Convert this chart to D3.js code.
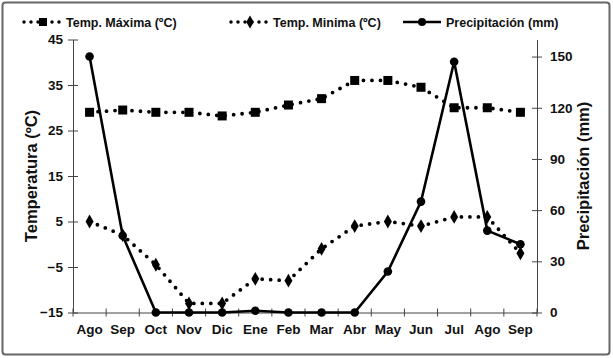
<!DOCTYPE html>
<html>
<head>
<meta charset="utf-8">
<script src="https://cdn.jsdelivr.net/npm/d3@7"></script>
<style>
  body { margin: 0; background: #fff; overflow: hidden; }
  svg { display: block; }
  text { font-family: "Liberation Sans", Arial, sans-serif; font-weight: bold; fill: #111; }
</style>
</head>
<body>
<svg class="chart"></svg>
<script>
const svgWidth = 613;
const svgHeight = 358;

// data
var months = ["Ago", "Sep", "Oct", "Nov", "Dic", "Ene", "Feb", "Mar", "Abr", "May", "Jun", "Jul", "Ago", "Sep"];
var tempMax = [29, 29.5, 29, 29, 28.2, 29, 30.6, 32, 36, 36, 34.5, 30, 30, 29];
var tempMin = [5, 2, -4.5, -13, -13, -7.6, -8, -1, 4, 5, 4, 6, 6, -2];
var precip = [150, 45, 0, 0, 0, 1, 0, 0, 0, 24, 65, 147, 48, 40];
var tempTicks = [-15, -5, 5, 15, 25, 35, 45];
var precipTicks = [0, 30, 60, 90, 120, 150];

var margin = { top: 39.5, right: 76, bottom: 45.5, left: 73 };
var innerWidth = svgWidth - margin.left - margin.right;
var innerHeight = svgHeight - margin.top - margin.bottom;

const svg = d3.select('.chart')
  .attr('width', svgWidth)
  .attr('height', svgHeight);

// outer frame
svg.append('rect')
  .attr('x', 2.5).attr('y', 2.5)
  .attr('width', svgWidth - 6).attr('height', svgHeight - 6)
  .attr('rx', 3)
  .attr('fill', 'none')
  .attr('stroke', '#666')
  .attr('stroke-width', 2);

const g = svg.append('g')
  .attr('transform', `translate(${margin.left},${margin.top})`);

var x = d3.scaleBand().domain(d3.range(months.length)).range([0, innerWidth]);
var xc = function(i) { return x(i) + x.bandwidth() / 2; };
var yT = d3.scaleLinear().domain([-15, 45]).range([innerHeight, 0]);
var yP = d3.scaleLinear().domain([0, 160]).range([innerHeight, 0]);

// x axis with ticks between months
var xAxis = g.append('g')
  .attr('transform', `translate(0,${innerHeight})`)
  .call(d3.axisBottom(x).tickSizeInner(0).tickSizeOuter(0).tickFormat(function(i) { return months[i]; }));
xAxis.selectAll('text').attr('dy', '1.35em').style('font-size', '13.5px');
xAxis.select('.domain').attr('stroke', '#444');
xAxis.selectAll('line.sep')
  .data(d3.range(months.length + 1))
  .enter().append('line')
  .attr('x1', function(i) { return i * x.step(); })
  .attr('x2', function(i) { return i * x.step(); })
  .attr('y1', -4).attr('y2', 4)
  .attr('stroke', '#444');

// left axis
var leftAxis = g.append('g')
  .call(d3.axisLeft(yT).tickValues(tempTicks).tickSize(5).tickSizeOuter(0));
leftAxis.selectAll('.tick line').attr('x2', 5).attr('x1', -5).attr('stroke', '#444');
leftAxis.selectAll('text').attr('x', -10).style('font-size', '13.5px');
leftAxis.select('.domain').attr('stroke', '#444');

// right axis
var rightAxis = g.append('g')
  .attr('transform', `translate(${innerWidth},0)`)
  .call(d3.axisRight(yP).tickValues(precipTicks).tickSize(5).tickSizeOuter(0));
rightAxis.selectAll('.tick line').attr('x1', -5).attr('x2', 5).attr('stroke', '#444');
rightAxis.selectAll('text').attr('x', 13).style('font-size', '13.5px');
rightAxis.select('.domain').attr('stroke', '#444');

// axis titles
svg.append('text')
  .text('Temperatura (ºC)')
  .attr('transform', 'translate(37,176) rotate(-90)')
  .style('text-anchor', 'middle')
  .style('font-size', '16.5px');
svg.append('text')
  .text('Precipitación (mm)')
  .attr('transform', 'translate(589,176) rotate(-90)')
  .style('text-anchor', 'middle')
  .style('font-size', '16.5px');

// lines
var lineT = d3.line().x(function(d, i) { return xc(i); }).y(function(d) { return yT(d); });
var lineP = d3.line().x(function(d, i) { return xc(i); }).y(function(d) { return yP(d); });

g.append('path').datum(tempMax)
  .attr('d', lineT).attr('fill', 'none').attr('stroke', '#000')
  .attr('stroke-width', 3.8).attr('stroke-linecap', 'round').attr('stroke-dasharray', '0,8.5');
g.append('path').datum(tempMin)
  .attr('d', lineT).attr('fill', 'none').attr('stroke', '#000')
  .attr('stroke-width', 3.8).attr('stroke-linecap', 'round').attr('stroke-dasharray', '0,8.5');
g.append('path').datum(precip)
  .attr('d', lineP).attr('fill', 'none').attr('stroke', '#000')
  .attr('stroke-width', 2.6);

// markers
g.selectAll('.sq').data(tempMax).enter().append('rect')
  .attr('x', function(d, i) { return xc(i) - 4.5; })
  .attr('y', function(d) { return yT(d) - 4.5; })
  .attr('width', 9).attr('height', 9).attr('fill', '#000');
g.selectAll('.dm').data(tempMin).enter().append('path')
  .attr('d', d3.symbol().type(d3.symbolDiamond).size(55))
  .attr('transform', function(d, i) { return `translate(${xc(i)},${yT(d)})`; })
  .attr('fill', '#000');
g.selectAll('.ci').data(precip).enter().append('circle')
  .attr('cx', function(d, i) { return xc(i); })
  .attr('cy', function(d) { return yP(d); })
  .attr('r', 4.3).attr('fill', '#000');

// legend
var legend = svg.append('g').attr('transform', 'translate(0,22)');
function legendItem(x0, label, kind) {
  var item = legend.append('g').attr('transform', `translate(${x0},0)`);
  if (kind === 'line') {
    item.append('line').attr('x1', 0).attr('x2', 38).attr('y1', 0).attr('y2', 0)
      .attr('stroke', '#000').attr('stroke-width', 2.6);
    item.append('circle').attr('cx', 19).attr('cy', 0).attr('r', 4).attr('fill', '#000');
  } else {
    item.append('line').attr('x1', 1).attr('x2', 39).attr('y1', 0).attr('y2', 0)
      .attr('stroke', '#000').attr('stroke-width', 3.5).attr('stroke-linecap', 'round')
      .attr('stroke-dasharray', '0,7');
    if (kind === 'sq') {
      item.append('rect').attr('x', 16).attr('y', -4).attr('width', 8).attr('height', 8).attr('fill', '#000');
    } else {
      item.append('path').attr('d', d3.symbol().type(d3.symbolDiamond).size(50))
        .attr('transform', 'translate(20,0)').attr('fill', '#000');
    }
  }
  item.append('text').text(label).attr('x', 43).attr('y', 4.5).style('font-size', '12.5px');
}
legendItem(23, 'Temp. Máxima (ºC)', 'sq');
legendItem(230, 'Temp. Minima (ºC)', 'dm');
legendItem(403, 'Precipitación (mm)', 'line');
</script>
</body>
</html>
